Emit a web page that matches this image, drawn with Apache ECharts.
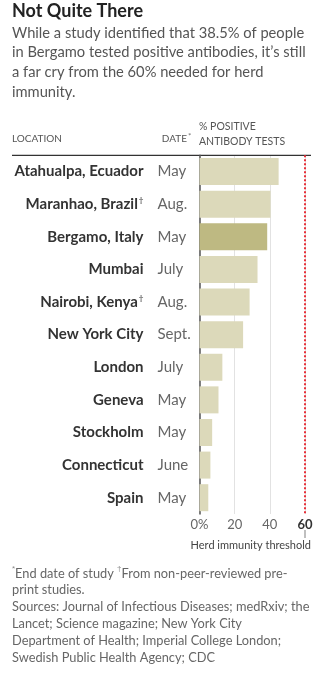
<!DOCTYPE html>
<html>
<head>
<meta charset="utf-8">
<script src="https://cdn.jsdelivr.net/npm/echarts@6/dist/echarts.min.js"></script>
<style>
  html, body { margin: 0; padding: 0; background: #fff; }
  #chart { width: 323px; height: 682px; }
</style>
</head>
<body>
<div id="chart"></div>
<script>
// Locations, top to bottom
const locations = ['Atahualpa, Ecuador', 'Maranhao, Brazil', 'Bergamo, Italy', 'Mumbai',
  'Nairobi, Kenya', 'New York City', 'London', 'Geneva', 'Stockholm', 'Connecticut', 'Spain'];
// Pre-print (non-peer-reviewed) flag per location
const preprint = [false, true, false, false, true, false, false, false, false, false, false];
// End date of each study
const dates = ['May', 'Aug.', 'May', 'July', 'Aug.', 'Sept.', 'July', 'May', 'May', 'June', 'May'];
// Share of positive antibody tests, %
const positive = [45, 40.4, 38.5, 33, 28.5, 24.8, 13, 10.8, 7.2, 6.2, 5];
// Highlighted location
const highlight = 'Bergamo, Italy';
// Herd immunity threshold, %
const threshold = 60;
// X axis ticks
const xTicks = [0, 20, 40, 60];

const FONT = 'Lato, "Noto Sans", sans-serif';
const chart = echarts.init(document.getElementById('chart'), null, { renderer: 'canvas' });

const gridLeft = 199.5, gridRight = 18, gridTop = 155.3, gridBottom = 168;

const option = {
  animation: false,
  backgroundColor: '#fff',
  textStyle: { fontFamily: FONT },
  grid: { left: gridLeft, right: gridRight, top: gridTop, bottom: gridBottom, containLabel: false },
  xAxis: {
    type: 'value', min: xTicks[0], max: xTicks[xTicks.length - 1], interval: 20,
    axisLine: { show: false }, axisTick: { show: false },
    splitLine: { show: true, lineStyle: { color: '#e2e2e2', width: 1 } },
    axisLabel: {
      margin: 4, fontSize: 13, color: '#666', fontFamily: FONT,
      formatter: v => v === 0 ? '0%' : (v === threshold ? '{b|' + v + '}' : String(v)),
      rich: { b: { fontSize: 13, fontWeight: 'bold', color: '#333', fontFamily: FONT } }
    }
  },
  yAxis: [
    {
      type: 'category', data: locations, inverse: true,
      axisLine: { show: true, lineStyle: { color: '#555', width: 1.5 } },
      axisTick: { show: false },
      axisLabel: {
        margin: 56, fontSize: 15, fontWeight: 'bold', color: '#333', fontFamily: FONT,
        formatter: (v) => preprint[locations.indexOf(v)] ? '{n|' + v + '}{s|†}' : '{n|' + v + '}',
        rich: {
          n: { fontSize: 15, fontWeight: 'bold', color: '#333', fontFamily: FONT },
          s: { fontSize: 8, color: '#666', verticalAlign: 'top', padding: [0, 0, 7, 1], fontFamily: FONT }
        }
      }
    },
    {
      type: 'category', data: dates.map((d, i) => d + '\u200b'.repeat(i)), inverse: true, position: 'left',
      axisLine: { show: false }, axisTick: { show: false },
      axisLabel: { margin: 42, align: 'left', fontSize: 15, color: '#666', fontFamily: FONT,
        formatter: v => v.replace(/\u200b/g, '') }
    }
  ],
  series: [{
    type: 'bar',
    data: positive.map((v, i) => ({
      value: v,
      itemStyle: { color: locations[i] === highlight ? '#beb982' : '#dcd9ba' }
    })),
    barWidth: 27,
    silent: true,
    markLine: {
      silent: true, symbol: 'none', label: { show: false },
      lineStyle: { color: '#e8303a', type: [2, 2], width: 2 },
      data: [{ xAxis: threshold }]
    }
  }]
};
chart.setOption(option);

// Annotation and headline text
const tx = chart.convertToPixel({ xAxisIndex: 0 }, threshold);
const gridBottomY = 682 - gridBottom;
chart.setOption({
  graphic: [
    { type: 'text', left: 12, top: 2, style: { text: 'Not Quite There', font: 'bold 18px ' + FONT, fill: '#222' } },
    { type: 'text', left: 12, top: 23, style: {
      text: 'While a study identified that 38.5% of people\nin Bergamo tested positive antibodies, it\u2019s still\na far cry from the 60% needed for herd\nimmunity.',
      font: '14.7px ' + FONT, fill: '#555', lineHeight: 19.8 } },
    { type: 'text', left: 12, top: 134, style: { text: 'LOCATION', font: '10px ' + FONT, fill: '#555' } },
    { type: 'text', right: 323 - 187, top: 134, style: { text: 'DATE', font: '10px ' + FONT, fill: '#555' } },
    { type: 'text', left: 188, top: 132, style: { text: '*', font: '8px ' + FONT, fill: '#777' } },
    { type: 'text', left: 199, top: 119, style: { text: '% POSITIVE\nANTIBODY TESTS', font: '10.5px ' + FONT, fill: '#555', lineHeight: 15 } },
    { type: 'line', shape: { x1: 12, y1: gridTop, x2: 311, y2: gridTop }, style: { stroke: '#333', lineWidth: 1.3 } },
    { type: 'line', shape: { x1: tx, y1: gridBottomY + 16, x2: tx, y2: gridBottomY + 24 }, style: { stroke: '#aaa', lineWidth: 1.5 } },
    { type: 'text', right: 12, top: gridBottomY + 26, style: { text: 'Herd immunity threshold', font: '11px ' + FONT, fill: '#444' } },
    { type: 'text', left: 12, top: 565, style: {
      text: '{s|*}End date of study {s|†}From non-peer-reviewed pre-\nprint studies.\nSources: Journal of Infectious Diseases; medRxiv; the\nLancet; Science magazine; New York City\nDepartment of Health; Imperial College London;\nSwedish Public Health Agency; CDC',
      font: '12.8px ' + FONT, fill: '#666', lineHeight: 16.8,
      rich: { s: { fontSize: 8, fill: '#888', verticalAlign: 'top', lineHeight: 16.8 } } } }
  ]
});
</script>
</body>
</html>
